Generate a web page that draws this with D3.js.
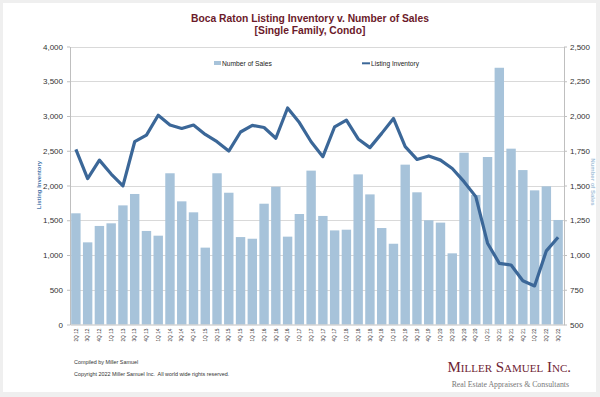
<!DOCTYPE html>
<html>
<head>
<meta charset="utf-8">
<script src="https://cdn.jsdelivr.net/npm/d3@7"></script>
<style>
  html, body { margin: 0; padding: 0; background: #efefef; }
  svg { display: block; font-family: "Liberation Sans", Arial, sans-serif; }
</style>
</head>
<body>
<script>
const quarters = ["2Q 12","3Q 12","4Q 12",
  "1Q 13","2Q 13","3Q 13","4Q 13","1Q 14","2Q 14","3Q 14","4Q 14",
  "1Q 15","2Q 15","3Q 15","4Q 15","1Q 16","2Q 16","3Q 16","4Q 16",
  "1Q 17","2Q 17","3Q 17","4Q 17","1Q 18","2Q 18","3Q 18","4Q 18",
  "1Q 19","2Q 19","3Q 19","4Q 19","1Q 20","2Q 20","3Q 20","4Q 20",
  "1Q 21","2Q 21","3Q 21","4Q 21","1Q 22","2Q 22","3Q 22"];

const numberOfSales = [1300, 1091, 1209, 1228, 1357, 1439, 1173, 1139, 1588, 1386, 1307,
  1053, 1588, 1448, 1129, 1117, 1369, 1491, 1132, 1295, 1607, 1281, 1177, 1182, 1580,
  1436, 1194, 1081, 1650, 1451, 1250, 1233, 1012, 1736, 1432, 1705, 2347, 1765, 1611,
  1465, 1494, 1252];

const listingInventory = [2520, 2100, 2365, 2165, 1995, 2630, 2725, 3010, 2870, 2820, 2870,
  2735, 2630, 2495, 2770, 2865, 2835, 2680, 3115, 2905, 2630, 2415, 2845, 2940, 2670,
  2545, 2750, 2965, 2560, 2375, 2425, 2365, 2245, 2055, 1840, 1170, 880, 856, 630,
  555, 1060, 1255];

const leftTicks = d3.range(0, 4001, 500);
const rightTicks = d3.range(500, 2501, 250);

const width = 600, height = 397;
const barColor = "#a7c3da", lineColor = "#3b6798", titleColor = "#6b1a2a";

const svg = d3.select("body").append("svg")
    .attr("width", width)
    .attr("height", height);

// white card
svg.append("rect")
    .attr("x", 3).attr("y", 3)
    .attr("width", 593).attr("height", 389)
    .attr("fill", "#fff");

const x = d3.scaleBand()
    .domain(quarters)
    .range([70, 564])
    .paddingInner(0.2)
    .paddingOuter(0.1);

const yLeft = d3.scaleLinear().domain([0, 4000]).range([324.5, 46.5]);
const yRight = d3.scaleLinear().domain([500, 2500]).range([324.5, 46.5]);

// gridlines
svg.append("g")
    .selectAll("line")
    .data(leftTicks.slice(1))
    .join("line")
    .attr("x1", 70).attr("x2", 564)
    .attr("y1", d => Math.round(yLeft(d)) + 0.5)
    .attr("y2", d => Math.round(yLeft(d)) + 0.5)
    .attr("stroke", "#d9d9d9");

// bars
svg.append("g")
    .selectAll("rect")
    .data(numberOfSales)
    .join("rect")
    .attr("x", (d, i) => x(quarters[i]))
    .attr("width", x.bandwidth())
    .attr("y", d => yRight(d))
    .attr("height", d => yRight(500) - yRight(d))
    .attr("fill", barColor);

// line
const line = d3.line()
    .x((d, i) => x(quarters[i]) + x.bandwidth() / 2)
    .y(d => yLeft(d));

svg.append("path")
    .datum(listingInventory)
    .attr("d", line)
    .attr("fill", "none")
    .attr("stroke", lineColor)
    .attr("stroke-width", 3.2)
    .attr("stroke-linejoin", "round");

// axes
const axisStyle = g => {
    g.select(".domain").attr("stroke", "#bfbfbf");
    g.selectAll(".tick line").attr("stroke", "#bfbfbf");
    g.selectAll(".tick text").attr("fill", "#333").attr("font-size", 8);
};

svg.append("g")
    .attr("transform", "translate(70,0)")
    .call(d3.axisLeft(yLeft).tickValues(leftTicks).tickFormat(d3.format(",")).tickSize(3).tickSizeOuter(0).tickPadding(4))
    .call(axisStyle);

svg.append("g")
    .attr("transform", "translate(564,0)")
    .call(d3.axisRight(yRight).tickValues(rightTicks).tickFormat(d3.format(",")).tickSize(3).tickSizeOuter(0).tickPadding(3))
    .call(axisStyle);

const xAxis = svg.append("g")
    .attr("transform", "translate(0,324.5)")
    .call(d3.axisBottom(x).tickSize(0).tickPadding(3))
    .call(axisStyle);

xAxis.selectAll(".tick text")
    .attr("font-size", 4.8)
    .attr("transform", "rotate(-90)")
    .attr("text-anchor", "end")
    .attr("dy", "0.35em")
    .attr("dx", -4)
    .attr("y", 0);

// axis titles
svg.append("text")
    .attr("transform", "translate(41,185) rotate(-90)")
    .attr("text-anchor", "middle")
    .attr("font-size", 6)
    .attr("font-weight", "bold")
    .attr("fill", "#4a78ac")
    .text("Listing Inventory");

svg.append("text")
    .attr("transform", "translate(591,182) rotate(90)")
    .attr("text-anchor", "middle")
    .attr("font-size", 6)
    .attr("font-weight", "bold")
    .attr("fill", "#a7c3da")
    .text("Number of Sales");

// title
const title = svg.append("text")
    .attr("text-anchor", "middle")
    .attr("font-size", 10.3)
    .attr("font-weight", "bold")
    .attr("fill", titleColor);
title.append("tspan").attr("x", 310).attr("y", 22).text("Boca Raton Listing Inventory v. Number of Sales");
title.append("tspan").attr("x", 310).attr("y", 34).text("[Single Family, Condo]");

// legend
svg.append("rect")
    .attr("x", 214).attr("y", 61).attr("width", 7).attr("height", 4)
    .attr("fill", barColor);
svg.append("text")
    .attr("x", 222).attr("y", 65.5)
    .attr("font-size", 6.7).attr("fill", "#222")
    .text("Number of Sales");

svg.append("line")
    .attr("x1", 362).attr("x2", 370).attr("y1", 63.3).attr("y2", 63.3)
    .attr("stroke", lineColor).attr("stroke-width", 2);
svg.append("text")
    .attr("x", 371).attr("y", 65.5)
    .attr("font-size", 6.6).attr("fill", "#222")
    .text("Listing Inventory");

// footer
svg.append("text")
    .attr("x", 74).attr("y", 364)
    .attr("font-size", 5.4).attr("fill", "#333")
    .text("Compiled by Miller Samuel");
svg.append("text")
    .attr("x", 74).attr("y", 376)
    .attr("font-size", 5.4).attr("fill", "#333")
    .attr("xml:space", "preserve")
    .text("Copyright 2022 Miller Samuel Inc.  All world wide rights reserved.");

svg.append("text")
    .attr("x", 571).attr("y", 372)
    .attr("text-anchor", "end")
    .attr("font-family", "'Liberation Serif', 'Times New Roman', serif")
    .attr("font-size", 15)
    .attr("font-variant", "small-caps")
    .attr("fill", "#6e2433")
    .text("Miller Samuel Inc.");
svg.append("text")
    .attr("x", 569).attr("y", 387)
    .attr("text-anchor", "end")
    .attr("font-family", "'Liberation Serif', 'Times New Roman', serif")
    .attr("font-size", 7.8)
    .attr("fill", "#777")
    .text("Real Estate Appraisers & Consultants");
</script>
</body>
</html>
